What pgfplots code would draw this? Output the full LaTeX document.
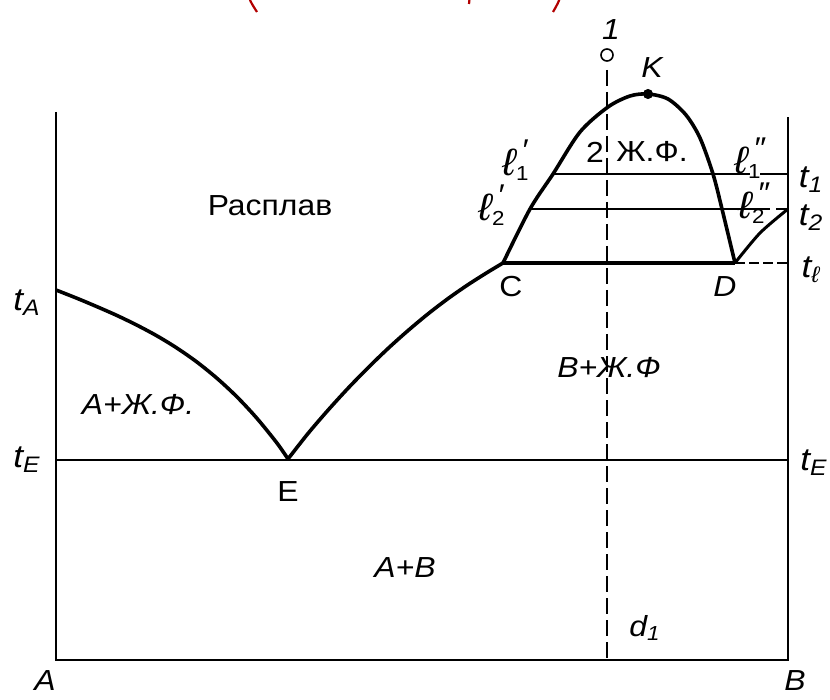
\documentclass[border=0pt]{standalone}
\usepackage{pgfplots}
\pgfplotsset{compat=1.18}
\usepackage{fontspec}
\setmainfont{Liberation Sans}[FakeStretch=1.1]
\newcommand{\lbl}{\fontsize{14.5}{14.5}\selectfont}
\newcommand{\tlbl}{\fontsize{16}{16}\selectfont}
% l-label with a prime mark and a subscript
\newcommand{\lpt}[2]{{\fontsize{19}{19}\selectfont\itshape ℓ}\makebox[0pt][l]{\raisebox{1.0ex}{\fontsize{15}{15}\selectfont\itshape\,#2}}\textsubscript{#1}}
\begin{document}
\begin{tikzpicture}
\begin{axis}[
  x=0.5pt, y=0.5pt, y dir=reverse,
  xmin=0, xmax=830, ymin=0, ymax=700,
  hide axis, clip=true,
]
\coordinate (bbTL) at (axis cs:0,0);
\coordinate (bbBR) at (axis cs:830,700);
% frame: composition axis and the two pure components
\addplot[black, line width=1.2pt] coordinates {(56,112) (56,660) (788,660) (788,117)};
% eutectic horizontal t_E
\addplot[black, line width=1.2pt] coordinates {(56,460) (788,460)};
% liquidus of A
\addplot[black, line width=1.8pt, smooth] coordinates {(56,290) (77,298.3) (97,306.7) (117,315.5) (137,325.2) (157,335.9) (177,348.1) (197,362.1) (217,378.3) (237,396.9) (257,418.4) (277,443.1) (288,459)};
% liquidus of B from E to C
\addplot[black, line width=1.8pt, smooth] coordinates {(288,459) (308,433.5) (328,410.2) (348,388.3) (368,367.8) (388,348.5) (408,330.6) (428,313.9) (448,298.6) (468,284.7) (488,272) (503,263)};
% monotectic line C--D
\addplot[black, line width=1.8pt] coordinates {(503,263) (735,263)};
\addplot[black, line width=0.6pt, dash pattern=on 5pt off 2pt] coordinates {(735,263) (788,263)};
% miscibility gap dome with critical point K
\addplot[black, line width=1.8pt, smooth] coordinates {(503,263) (530,209) (553,174) (580,132) (608,107) (630,96) (648,94) (668,99) (686,115) (700,138) (713,174) (722,209) (735,263)};
% liquidus of B above D
\addplot[black, line width=1.5pt, smooth] coordinates {(735,263) (760,233) (788,209)};
% tie lines t1 and t2
\addplot[black, line width=0.9pt] coordinates {(553,174) (750,174)};
\addplot[black, line width=0.7pt] coordinates {(760,174) (788,174)};
\addplot[black, line width=0.9pt] coordinates {(530,209) (770,209)};
\addplot[black, line width=0.7pt] coordinates {(776,209) (788,209)};
% composition line of alloy 1
\addplot[black, line width=0.8pt, dash pattern=on 8pt off 3pt] coordinates {(607,70) (607,660)};
\addplot[black, line width=0.8pt, only marks, mark=o, mark size=3pt] coordinates {(607,55)};
\addplot[black, only marks, mark=*, mark size=2.3pt] coordinates {(648,94)};

% lower ends of the red caption above
\draw[red!70!black, line width=1.1pt] (251,-14) .. controls (248,-2) .. (257,12);
\draw[red!70!black, line width=1.1pt] (470,-6) -- (469,4);
\draw[red!70!black, line width=1.1pt] (558,-14) .. controls (561,-2) .. (553,12);

% labels
\node[font=\lbl] at (611,30) {\itshape 1};
\node[font=\lbl] at (652,68) {\itshape K};
\node[font=\lbl] at (270,206) {Расплав};
\node[font=\lbl] at (138,405) {\itshape A+Ж.Ф.};
\node[font=\lbl] at (609,368) {\itshape B+Ж.Ф};
\node[font=\lbl] at (405,568) {\itshape A+B};
\node[font=\lbl] at (595,152) {2};
\node[font=\lbl] at (652,152) {Ж.Ф.};
\node[font=\lbl] at (288,492) {E};
\node[font=\lbl] at (511,287) {C};
\node[font=\lbl] at (725,287) {\itshape D};
\node[font=\lbl] at (45,681) {\itshape A};
\node[font=\lbl] at (795,681) {\itshape B};
\node[font=\lbl] at (645,628) {\itshape d\textsubscript{1}};
\node[font=\tlbl] at (27,303) {\itshape t\textsubscript{A}};
\node[font=\tlbl] at (27,460) {\itshape t\textsubscript{E}};
\node[font=\tlbl] at (814,463) {\itshape t\textsubscript{E}};
\node[font=\tlbl] at (811,180) {\itshape t\textsubscript{1}};
\node[font=\tlbl] at (811,218) {\itshape t\textsubscript{2}};
\node[font=\tlbl] at (811,270) {\itshape t\textsubscript{ℓ}};
\node[font=\lbl] at (516,160) {\lpt{1}{′}};
\node[font=\lbl] at (492,205) {\lpt{2}{′}};
\node[font=\lbl] at (748,158) {\lpt{1}{″}};
\node[font=\lbl] at (752,203) {\lpt{2}{″}};
\end{axis}
\pgfresetboundingbox
\path[use as bounding box] (bbTL) rectangle (bbBR);
\end{tikzpicture}
\end{document}
